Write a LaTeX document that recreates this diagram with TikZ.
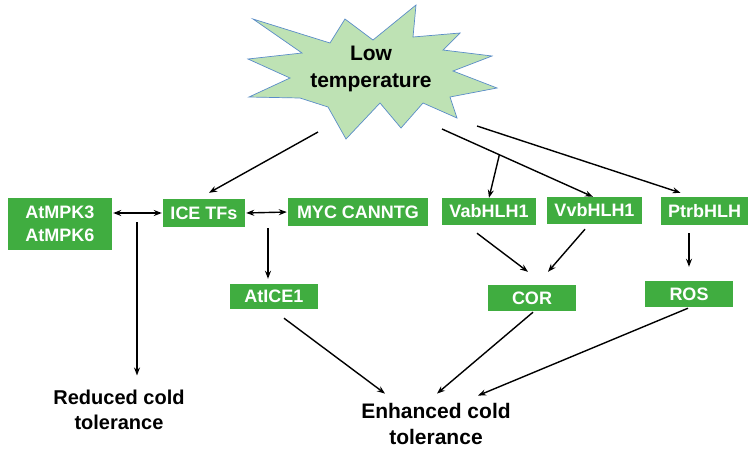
\documentclass[tikz,border=0pt]{standalone}
\usepackage{fontspec}
\setmainfont{Liberation Sans}
\usetikzlibrary{arrows.meta}
\definecolor{boxgreen}{RGB}{64,173,64}
\definecolor{burstfill}{RGB}{190,226,180}
\definecolor{burstline}{RGB}{90,140,200}
\tikzset{
    gene-box/.style = {fill=boxgreen, text=white, font=\bfseries\fontsize{18}{23}\selectfont, inner sep=0pt, minimum height=27pt, align=center},
    end-text/.style = {font=\bfseries\fontsize{21}{26}\selectfont, inner sep=0pt, align=center},
    arr/.style = {-{Stealth[length=8pt,width=6pt]}, line width=1.4pt},
    dbl/.style = {{Stealth[length=8pt,width=6pt]}-{Stealth[length=8pt,width=6pt]}, line width=1.4pt},
}

\begin{document}
\begin{tikzpicture}[x=1pt, y=-1pt]
\useasboundingbox (0,0) rectangle (756,456);
% the burst
\filldraw[fill=burstfill, draw=burstline, line width=0.7pt]
    (253,19) -- (330,43) -- (345,19) -- (373,40) -- (416,5) -- (413,37)
    -- (460,33) -- (443,50) -- (492,56) -- (453,71) -- (497,88) -- (450,97)
    -- (457,118) -- (423,103) -- (401,128) -- (380,103) -- (346,139)
    -- (328,107) -- (300,98) -- (249,97) -- (290,78) -- (248,59) -- (302,53) -- cycle;
\node[end-text, font=\bfseries\fontsize{21}{27}\selectfont] (low) at (371,68.5) {Low\\temperature};
\coordinate (t-ice) at (318,132);
\coordinate (t-vvb) at (442,129);
\coordinate (t-ptr) at (477,126);

% boxes
\node[gene-box, minimum width=104pt, minimum height=52pt] (mpk) at (60,224) {AtMPK3\\AtMPK6};
\node[gene-box, minimum width=82pt, minimum height=28pt] (ice) at (204,213) {ICE TFs};
\node[gene-box, minimum width=140pt, minimum height=28pt] (myc) at (358,212) {MYC CANNTG};
\node[gene-box, minimum width=94pt] (vab) at (489,211.5) {VabHLH1};
\node[gene-box, minimum width=95pt] (vvb) at (594.5,210.5) {VvbHLH1};
\node[gene-box, minimum width=87pt, minimum height=28pt] (ptr) at (704.5,211) {PtrbHLH};
\node[gene-box, minimum width=88pt, minimum height=25pt] (atice) at (274,296.5) {AtICE1};
\node[gene-box, minimum width=88pt, minimum height=26pt] (cor) at (532,298) {COR};
\node[gene-box, minimum width=88pt, minimum height=26pt] (ros) at (689,294) {ROS};

\node[end-text, font=\bfseries\fontsize{20}{25}\selectfont] (reduced) at (119,409.5) {Reduced cold\\tolerance};
\node[end-text] (enh) at (436,423.5) {Enhanced cold\\tolerance};
\coordinate (rc-top) at (137,222);

% arrows
\draw[arr] (t-ice) -- ([xshift=5pt, yshift=6pt]ice.north);
\draw[arr] (t-vvb) -- coordinate[pos=0.38] (fork) ([xshift=-1.5pt]vvb.north);
\draw[arr] (fork) -- (vab.north);
\draw[arr] (t-ptr) -- ([xshift=-24pt, yshift=4pt]ptr.north);
\draw[dbl, shorten <=1pt, shorten >=1pt] ([yshift=11pt]mpk.east) -- (ice.west);
\draw[dbl, shorten <=1pt, shorten >=1pt] (ice.east) -- (myc.west);
\draw[arr, shorten <=1pt, shorten >=5pt] ([xshift=64pt]ice.south) -- ([xshift=64pt]ice.south |- atice.north);
\draw[arr] (rc-top) -- ([xshift=18pt, yshift=14pt]reduced.north);
\draw[arr] ([xshift=-12pt, yshift=-8pt]vab.south) -- ([xshift=-4pt, yshift=13pt]cor.north);
\draw[arr] ([xshift=-9.5pt, yshift=-5pt]vvb.south) -- ([xshift=16pt, yshift=13pt]cor.north);
\draw[arr] ([xshift=-15.5pt, yshift=-8pt]ptr.south) -- ([yshift=14pt]ros.north);
\draw[arr] ([xshift=10pt, yshift=-9pt]atice.south) -- ([xshift=-51pt, yshift=9pt]enh.north);
\draw[arr] ([xshift=1pt, yshift=-1pt]cor.south) -- ([xshift=1pt, yshift=9pt]enh.north);
\draw[arr] ([xshift=-1pt, yshift=-1pt]ros.south) -- ([xshift=42pt, yshift=7pt]enh.north);
\end{tikzpicture}
\end{document}
